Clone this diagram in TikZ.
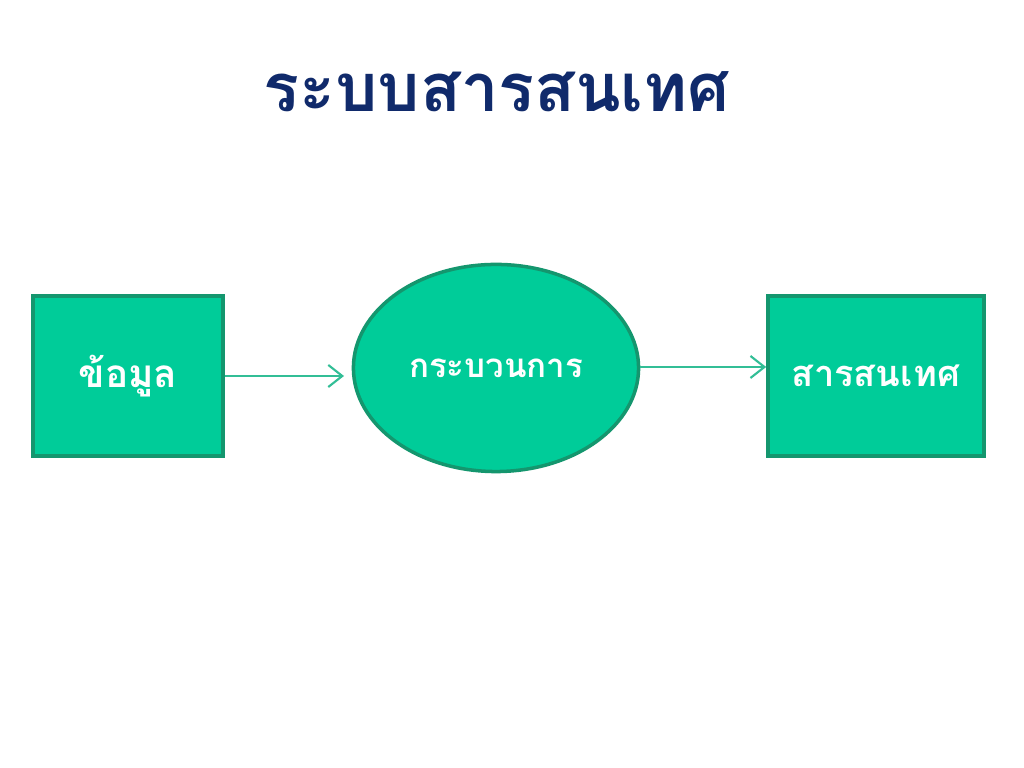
\documentclass[tikz,border=0pt]{standalone}
\usepackage{fontspec}
\newfontfamily\thaifont[Script=Thai]{Loma}
\usetikzlibrary{arrows.meta,positioning,shapes.geometric}
\definecolor{boxgreen}{RGB}{0,204,153}
\definecolor{edgegreen}{RGB}{20,150,110}
\definecolor{linkgreen}{RGB}{50,190,150}
\definecolor{titleblue}{RGB}{16,42,107}
\tikzset{
  box/.style   = {draw=edgegreen, line width=1pt, fill=boxgreen, text=white,
                  minimum height=1.60cm, inner sep=0pt,
                  font=\thaifont\bfseries\fontsize{11}{14}\selectfont},
  oval/.style  = {ellipse, draw=edgegreen, line width=1pt, fill=boxgreen, text=white,
                  minimum width=2.85cm, minimum height=2.07cm, inner sep=0pt,
                  font=\thaifont\bfseries\fontsize{9.4}{12}\selectfont},
  link/.style  = {-{Straight Barb[length=1.4mm,width=2.2mm]}, linkgreen, line width=0.6pt},
  heading/.style = {text=titleblue, font=\thaifont\bfseries\fontsize{19}{22}\selectfont},
}
\begin{document}
\begin{tikzpicture}[x=0.01cm,y=-0.01cm]
  \useasboundingbox[fill=white] (0,0) rectangle (1024,768);
  \node[heading] (title) at (497,92) {ระบบสารสนเทศ};
  \node[box, minimum width=1.90cm] (data) at (128,376) {ข้อมูล};
  \node[oval] (proc) at (496,368) {กระบวนการ};
  \node[box, minimum width=2.16cm, font=\thaifont\bfseries\fontsize{10.3}{13}\selectfont]
      (info) at (876,376) {สารสนเทศ};
  \coordinate (in) at (344,376);
  \draw[link] (data.east |- in) -- (in);
  \draw[link] (proc.east |- 0,367) -- (info.west |- 0,367);
\end{tikzpicture}
\end{document}
